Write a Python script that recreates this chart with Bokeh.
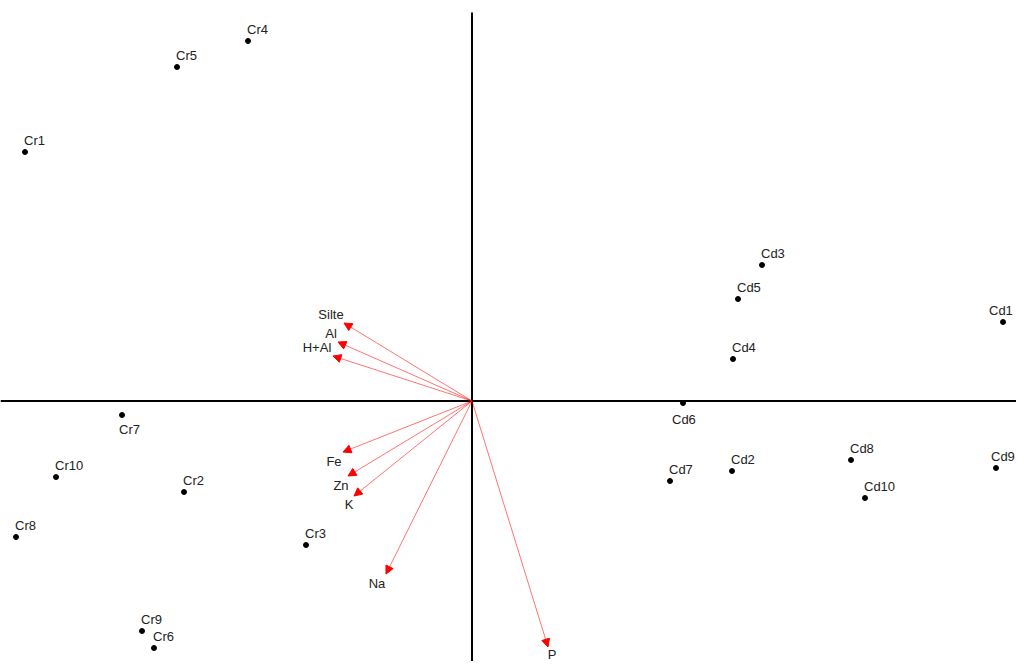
from bokeh.plotting import figure
from bokeh.models import ColumnDataSource, Arrow, NormalHead, Span
from bokeh.core.properties import value
from bokeh.embed import file_html
from bokeh.resources import INLINE

# Sample scores (biplot units)
sample_names = ["Cr1", "Cr2", "Cr3", "Cr4", "Cr5", "Cr6", "Cr7", "Cr8", "Cr9", "Cr10",
                "Cd1", "Cd2", "Cd3", "Cd4", "Cd5", "Cd6", "Cd7", "Cd8", "Cd9", "Cd10"]
sample_x = [-4.47, -2.88, -1.66, -2.24, -2.95, -3.18, -3.50, -4.56, -3.30, -4.16,
            5.31, 2.60, 2.90, 2.61, 2.66, 2.11, 1.98, 3.79, 5.24, 3.93]
sample_y = [2.49, -0.91, -1.44, 3.60, 3.34, -2.47, -0.14, -1.36, -2.30, -0.76,
            0.79, -0.70, 1.36, 0.42, 1.02, -0.02, -0.80, -0.59, -0.67, -0.97]

# Variable loadings (arrow tips)
var_names = ["Silte", "Al", "H+Al", "Fe", "Zn", "K", "Na", "P"]
var_x = [-1.28, -1.34, -1.39, -1.29, -1.24, -1.18, -0.86, 0.76]
var_y = [0.78, 0.59, 0.45, -0.51, -0.75, -0.95, -1.73, -2.46]

# label placement styles (screen px)
special = {"Cd6": (-11, 16), "Cr7": (-3, 14), "Cd1": (-14, -11.5), "Cd9": (-5, -11.5)}
samp_dx = [special.get(n, (-1, -11.5))[0] for n in sample_names]
samp_dy = [special.get(n, (-1, -11.5))[1] for n in sample_names]
var_dx = [-13, -7, -16, -9, -7, -5, -9, 4]
var_dy = [-9, -9, -9, 9, 9, 8, 9, 7]

p = figure(width=1016, height=661, output_backend="svg", toolbar_location=None,
           x_range=(-4.715, 5.445), y_range=(-2.605, 4.005),
           x_axis_location=None, y_axis_location=None, min_border=0)
p.grid.visible = False
p.outline_line_color = None
p.background_fill_color = "white"

# axes through origin
p.add_layout(Span(location=0, dimension="width", line_color="black", line_width=2))
p.segment(x0=[0], y0=[3.885], x1=[0], y1=[-2.7], line_color="black", line_width=2)

# arrows
asrc = ColumnDataSource(dict(x0=[0] * len(var_x), y0=[0] * len(var_y), x1=var_x, y1=var_y))
p.add_layout(Arrow(end=NormalHead(size=8, fill_color="red", line_color="red"),
                   x_start="x0", y_start="y0", x_end="x1", y_end="y1",
                   line_color="red", line_alpha=0.55, line_width=1, source=asrc))

vsrc = ColumnDataSource(dict(x=var_x, y=var_y, t=var_names, dx=var_dx, dy=var_dy))
p.text(x="x", y="y", text="t", source=vsrc, x_offset="dx", y_offset="dy",
       text_align="center", text_baseline="middle", text_font=value("Liberation Sans"),
       text_font_size="13px", text_color="#222222")

# samples
ssrc = ColumnDataSource(dict(x=sample_x, y=sample_y, t=sample_names, dx=samp_dx, dy=samp_dy))
p.scatter(x="x", y="y", source=ssrc, size=5, color="black")
p.text(x="x", y="y", text="t", source=ssrc, x_offset="dx", y_offset="dy",
       text_align="left", text_baseline="middle", text_font=value("Liberation Sans"),
       text_font_size="13px", text_color="#222222")

open("out.html", "w").write(file_html(p, INLINE))
